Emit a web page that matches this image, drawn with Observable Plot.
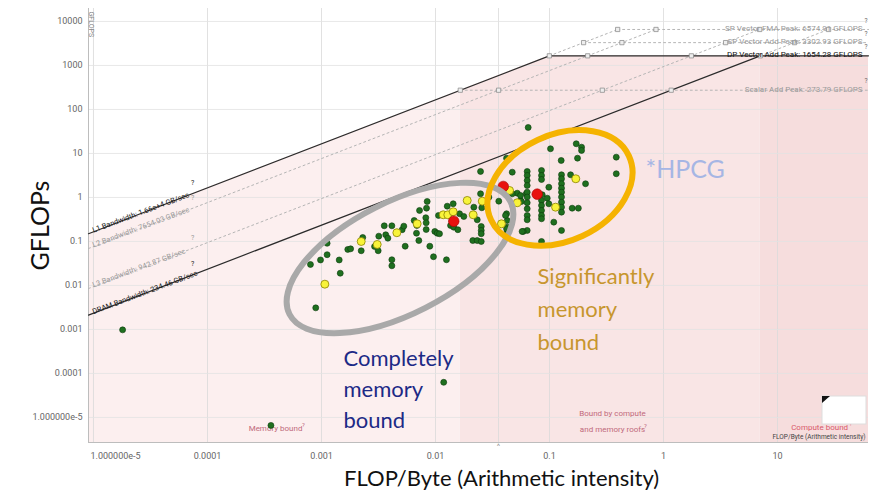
<!DOCTYPE html>
<html><head><meta charset="utf-8">
<script src="https://cdn.jsdelivr.net/npm/d3@7"></script>
<script src="https://cdn.jsdelivr.net/npm/@observablehq/plot@0.6"></script>
<style>html,body{margin:0;padding:0;background:#fff}svg{display:block}</style>
</head><body><div id="chart"></div>
<script>
// ---------- data ----------
const xTickValues = [1e-5, 1e-4, 1e-3, 1e-2, 1e-1, 1, 10];
const xTickLabels = ["1.000000e-5", "0.0001", "0.001", "0.01", "0.1", "1", "10"];
const yTickValues = [1e4, 1e3, 100, 10, 1, 0.1, 0.01, 0.001, 0.0001, 1e-5];
const yTickLabels = ["10000", "1000", "100", "10", "1", "0.1", "0.01", "0.001", "0.0001", "1.000000e-5"];

const memLabels = ["L1 Bandwidth: 1.66e+4 GB/sec", "L2 Bandwidth: 7654.03 GB/sec", "L3 Bandwidth: 942.87 GB/sec", "DRAM Bandwidth: 234.46 GB/sec"];
const memBandwidth = [16600, 7654.03, 942.87, 234.46];
const computeLabels = ["SP Vector FMA Peak: 6574.91 GFLOPS", "SP Vector Add Peak: 3302.93 GFLOPS", "DP Vector Add Peak: 1654.28 GFLOPS", "Scalar Add Peak: 273.79 GFLOPS"];
const computePeak = [6574.91, 3302.93, 1654.28, 273.79];
const markerAI = [0.0357];

const greenAI = [1.8e-5, 3.6e-4, 0.0118, 8.9e-4, 8.0e-4, 9.8e-4, 0.00112, 0.00112, 0.00143, 0.00146,
  0.0017, 0.0018, 0.0023, 0.00223, 0.00292, 0.00314, 0.00318, 0.00355, 0.00366, 0.00382,
  0.00414, 0.00414, 0.00414, 0.0051, 0.00527, 0.00542, 0.0065, 0.00681, 0.00714, 0.00724,
  0.00686, 0.00834, 0.00845, 0.00822, 0.00828, 0.00828, 0.00891, 0.0096, 0.00986, 0.01035,
  0.01084, 0.01062, 0.01267, 0.01429, 0.01355, 0.01446, 0.0157, 0.01247, 0.01626, 0.01771,
  0.02168, 0.02322, 0.02483, 0.02547, 0.02518, 0.02518, 0.02518, 0.02124, 0.02322, 0.02518,
  0.02937, 0.02483, 0.0359, 0.042, 0.0426, 0.0426, 0.042, 0.0521, 0.0625, 0.0557,
  0.0637, 0.0588, 0.065, 0.102, 0.1715, 0.191, 0.191, 0.176, 0.385, 0.385,
  0.1266, 0.042, 0.0471, 0.0637, 0.0637, 0.0637, 0.0637, 0.0851, 0.0851, 0.0851,
  0.1274, 0.1274, 0.1274, 0.1274, 0.1274, 0.1274, 0.1274, 0.1274, 0.1274, 0.153,
  0.207, 0.0986, 0.042, 0.0471, 0.0557, 0.0863, 0.0955, 0.0637, 0.0637, 0.0637,
  0.0637, 0.0637, 0.0637, 0.0567, 0.0851, 0.0851, 0.0851, 0.0851, 0.0851, 0.0986,
  0.158, 0.179, 0.109, 0.1274, 0.0575, 0.0851, 0.0411, 0.042];
const greenGF = [0.00098, 6.6e-6, 6.3e-5, 0.0031, 0.030, 0.038, 0.050, 0.091, 0.038, 0.019,
  0.066, 0.068, 0.123, 0.0615, 0.077, 0.0615, 0.132, 0.227, 0.142, 0.119,
  0.227, 0.0384, 0.028, 0.185, 0.223, 0.078, 0.300, 0.154, 0.105, 0.507,
  0.231, 0.571, 0.811, 0.346, 0.266, 0.187, 0.078, 0.045, 0.169, 0.154,
  0.150, 0.390, 0.634, 0.719, 0.231, 0.211, 0.185, 0.0384, 0.426, 0.370,
  0.602, 0.311, 1.214, 0.583, 0.219, 0.178, 0.150, 0.105, 0.105, 0.100,
  1.016, 3.90, 0.824, 0.426, 0.300, 0.211, 0.150, 1.253, 1.214, 0.855,
  0.178, 0.169, 39.0, 12.8, 16.6, 13.9, 11.7, 7.82, 8.24, 3.46,
  6.93, 7.82, 3.76, 3.90, 3.16, 2.43, 1.87, 4.11, 3.16, 2.56,
  3.28, 2.66, 2.05, 1.63, 1.32, 1.02, 0.782, 0.602, 0.463, 3.28,
  2.05, 1.71, 1.15, 1.21, 1.11, 1.15, 0.964, 1.32, 1.02, 0.758,
  0.554, 0.390, 0.311, 0.811, 0.855, 0.658, 0.507, 0.390, 0.328, 0.719,
  0.571, 0.571, 0.275, 0.178, 0.169, 0.100, 0.390, 0.194];
const yellowAI = [0.00107, 0.00223, 0.00308, 0.00458, 0.0069, 0.01169, 0.01282, 0.01429, 0.01897, 0.0214, 0.0257, 0.0379, 0.0446, 0.0521, 0.113, 0.170];
const yellowGF = [0.0107, 0.100, 0.0855, 0.158, 0.252, 0.404, 0.404, 0.473, 0.855, 0.404, 0.824, 0.252, 1.44, 0.758, 0.602, 2.66];
const redAI = [0.01446, 0.0393, 0.078];
const redGF = [0.289, 1.78, 1.19];

const noteTexts = ["Completely\nmemory\nbound", "Significantly\nmemory\nbound", "*HPCG"];
const noteAI = [0.00156, 0.0785, 0.695];
const noteGF = [4.93e-5, 0.0034, 4.11];
const ellipseAI = [0.00493, 0.1248];
const ellipseGF = [0.0411, 1.60];
const zoneLabels = ["Memory bound", "Bound by compute", "and memory roofs", "Compute bound"];
const zoneAI = [3.95e-4, 0.357, 0.357, 23.4];

// ---------- derived ----------
const xDomain = [9.04e-6, 62.8];
const yDomain = [2.7e-6, 19700];
const [L1, L2, L3, DRAM] = memBandwidth;
const [FMA, SPADD, DP, SCALAR] = computePeak;
const roof = x => Math.min(L1 * x, DP);
const b1 = SCALAR / L1, b2 = DP / DRAM;
const zone1 = [xDomain[0], b1].map(x => ({x, y: roof(x)}));
const zone2 = [b1, DP / L1, b2].map(x => ({x, y: roof(x)}));
const zone3 = [b2, xDomain[1]].map(x => ({x, y: roof(x)}));

const seg = (k, x0, x1, f) => [{k, x: x0, y: f(x0)}, {k, x: x1, y: f(x1)}];
const solid = [
  ...seg("L1", xDomain[0], DP / L1, x => L1 * x),
  ...seg("DRAM", xDomain[0], DP / DRAM, x => DRAM * x),
  ...seg("DP", DP / L1, xDomain[1], () => DP)
];
const dotted = [
  ...seg("L1x", DP / L1, FMA / L1, x => L1 * x),
  ...seg("L2", xDomain[0], FMA / L2, x => L2 * x),
  ...seg("L3", xDomain[0], FMA / L3, x => L3 * x),
  ...seg("DRAMx", DP / DRAM, FMA / DRAM, x => DRAM * x),
  ...seg("FMA", FMA / L1, xDomain[1], () => FMA),
  ...seg("SPADD", SPADD / L1, xDomain[1], () => SPADD),
  ...seg("SCALAR", SCALAR / L1, xDomain[1], () => SCALAR)
];
const crossings = [];
memBandwidth.forEach(bw => computePeak.forEach(p => crossings.push({x: p / bw, y: p})));

const green = greenAI.map((x, i) => ({x, y: greenGF[i]}));
const yellow = yellowAI.map((x, i) => ({x, y: yellowGF[i]}));
const red = redAI.map((x, i) => ({x, y: redGF[i]}));
const mem = memBandwidth.map((bw, i) => ({bw, label: memLabels[i], i}));
const comp = computePeak.map((p, i) => ({p, label: computeLabels[i], i}));
const labelAI = 1.0e-5, helpAI = 7.4e-5;

const pinkText = "#c0697b";
const small = "Roboto, 'Liberation Sans', sans-serif";
const big = "Lato, 'Open Sans', sans-serif";
const zoneText = (i, dy, fill) => Plot.text([zoneLabels[i]], {x: () => zoneAI[i], frameAnchor: "bottom", dy, text: d => d, fontSize: 8, fill});
const helpMark = (i, dx, dy, fill) => Plot.text(["?"], {x: () => zoneAI[i], frameAnchor: "bottom", dx, dy, fontSize: 6, fill});

const plot = Plot.plot({
  width: 873, height: 499,
  marginLeft: 88, marginRight: 5, marginTop: 8, marginBottom: 57,
  style: {background: "#fff", fontFamily: small},
  x: {type: "log", domain: xDomain, axis: null},
  y: {type: "log", domain: yDomain, axis: null},
  marks: [
    Plot.areaY(zone1, {x: "x", y1: () => yDomain[0], y2: "y", fill: "#fcefef"}),
    Plot.areaY(zone2, {x: "x", y1: () => yDomain[0], y2: "y", fill: "#f9e5e5"}),
    Plot.areaY(zone3, {x: "x", y1: () => yDomain[0], y2: "y", fill: "#f6dddd"}),
    Plot.ruleX(xTickValues, {stroke: "#d9d9d9", strokeWidth: 0.8}),
    Plot.ruleX(markerAI, {stroke: "#d9d9d9", strokeWidth: 0.8}),
    Plot.ruleY(yTickValues, {stroke: "#e2e2e2", strokeWidth: 0.8}),
    Plot.ruleX([xDomain[0]], {stroke: "#bdbdbd"}),
    Plot.ruleY([yDomain[0]], {stroke: "#bdbdbd"}),
    // tick labels
    Plot.text(xTickValues.slice(1), {x: d => d, text: (d, i) => xTickLabels[i + 1], frameAnchor: "bottom", dy: 16, fontSize: 9, fill: "#666"}),
    Plot.text(xTickValues.slice(0, 1), {x: d => d, text: () => xTickLabels[0], frameAnchor: "bottom", dy: 16, dx: -3, textAnchor: "start", fontSize: 9, fill: "#666"}),
    Plot.text(markerAI, {x: d => d, text: () => "^", frameAnchor: "bottom", dy: 6, fontSize: 8, fill: "#999"}),
    Plot.text(yTickValues, {y: d => d, text: (d, i) => yTickLabels[i], frameAnchor: "left", textAnchor: "end", dx: -6, fontSize: 9, fill: "#666"}),
    Plot.text(["GFLOPS"], {frameAnchor: "top-left", dx: 5, dy: 3, rotate: 90, textAnchor: "start", fontSize: 7, fill: "#888"}),
    // roofs
    Plot.line(dotted, {x: "x", y: "y", z: "k", stroke: "#b5b5b5", strokeWidth: 1, strokeDasharray: "2,3"}),
    Plot.line(solid, {x: "x", y: "y", z: "k", stroke: "#2b2b2b", strokeWidth: 1.2}),
    Plot.dot(crossings, {x: "x", y: "y", symbol: "square", r: 2.4, fill: "#eeeeee", stroke: "#8f8f8f", strokeWidth: 0.8}),
    Plot.text(comp, {x: () => xDomain[1], y: "p", text: "label", textAnchor: "end", dx: -6, dy: -1, fontSize: 8,
      fill: d => d.i === 2 ? "#111" : "#9a9a9a", fontWeight: d => d.i === 2 ? "bold" : "normal"}),
    Plot.text(comp, {x: () => xDomain[1], y: "p", text: () => "?", textAnchor: "end", dx: -1, dy: -9, fontSize: 6.5, fill: "#666"}),
    Plot.text(mem, {x: () => labelAI, y: d => d.bw * labelAI, text: "label", textAnchor: "start", lineAnchor: "bottom", rotate: -20.5, dy: 1, fontSize: 7.5,
      fill: d => (d.i === 0 || d.i === 3) ? "#1a1a1a" : "#9a9a9a"}),
    Plot.text(mem, {x: () => helpAI, y: d => d.bw * helpAI, text: () => "?", dy: -11, fontSize: 7, fill: d => (d.i === 0 || d.i === 3) ? "#222" : "#999"}),
    // zone labels
    zoneText(0, -12, pinkText), helpMark(0, 28, -16, pinkText),
    zoneText(1, -27, pinkText),
    zoneText(2, -11, pinkText), helpMark(2, 33, -15, pinkText),
    zoneText(3, -13, "#d9596b"), helpMark(3, 31, -17, "#d9596b"),
    Plot.text(["FLOP/Byte (Arithmetic intensity)"], {frameAnchor: "bottom-right", dx: -3, dy: -4, fontSize: 6.5, fill: "#444"}),
    // points
    Plot.dot(green, {x: "x", y: "y", r: 3, fill: "#1f6f1f", stroke: "#0c3a0c", strokeWidth: 0.6}),
    Plot.dot(yellow, {x: "x", y: "y", r: 4, fill: "#f8f33a", stroke: "#8a8200", strokeWidth: 0.8}),
    Plot.dot(red, {x: "x", y: "y", r: 5.3, fill: "#e8120f", stroke: "#a30000", strokeWidth: 0.6}),
    // big annotations
    Plot.text([noteTexts[0]], {x: () => noteAI[0], y: () => noteGF[0], text: d => d, textAnchor: "start", lineAnchor: "middle", lineHeight: 1.42, fontSize: 22, fontFamily: big, fill: "#1c2a86"}),
    Plot.text([noteTexts[1]], {x: () => noteAI[1], y: () => noteGF[1], text: d => d, textAnchor: "start", lineAnchor: "middle", lineHeight: 1.5, fontSize: 22, fontFamily: big, fill: "#c7962e"}),
    Plot.text([noteTexts[2]], {x: () => noteAI[2], y: () => noteGF[2], text: d => d, textAnchor: "start", fontSize: 25, fontFamily: big, fill: "#a6b6e4"}),
    Plot.text(["GFLOPs"], {frameAnchor: "left", dx: -48, dy: 45, rotate: -90, fontSize: 25, fontFamily: big, fill: "#111"}),
    Plot.text(["FLOP/Byte (Arithmetic intensity)"], {x: () => 0.038, frameAnchor: "bottom", dy: 43, fontSize: 22, fontFamily: big, fill: "#111"})
  ]
});

document.getElementById("chart").appendChild(plot);

(function(){
  const sx = plot.scale("x"), sy = plot.scale("y");
  const fx = sx.apply ? v => sx.apply(v) : d3.scaleLog(sx.domain, sx.range);
  const fy = sy.apply ? v => sy.apply(v) : d3.scaleLog(sy.domain, sy.range);
  const svg = d3.select(plot);
  // ellipse annotations
  const specs = [
    {cx: fx(ellipseAI[0]), cy: fy(ellipseGF[0]), rx: 124, ry: 56, rot: -27, stroke: "#a9a9a9"},
    {cx: fx(ellipseAI[1]), cy: fy(ellipseGF[1]), rx: 76, ry: 53, rot: -25, stroke: "#f5b301"}
  ];
  specs.forEach(s => svg.append("ellipse").attr("cx", s.cx).attr("cy", s.cy).attr("rx", s.rx).attr("ry", s.ry)
    .attr("transform", `rotate(${s.rot} ${s.cx} ${s.cy})`).attr("fill", "none").attr("stroke", s.stroke).attr("stroke-width", 6));
  // mini-map widget
  const right = fx(xDomain[1]), bottom = fy(yDomain[0]);
  const g = svg.append("g");
  g.append("rect").attr("x", right - 46).attr("y", bottom - 46).attr("width", 44).attr("height", 28).attr("fill", "#fff").attr("stroke", "#ddd");
  g.append("path").attr("d", `M${right - 46},${bottom - 46}h8l-8,7z`).attr("fill", "#111");
})();
</script>
</body></html>
